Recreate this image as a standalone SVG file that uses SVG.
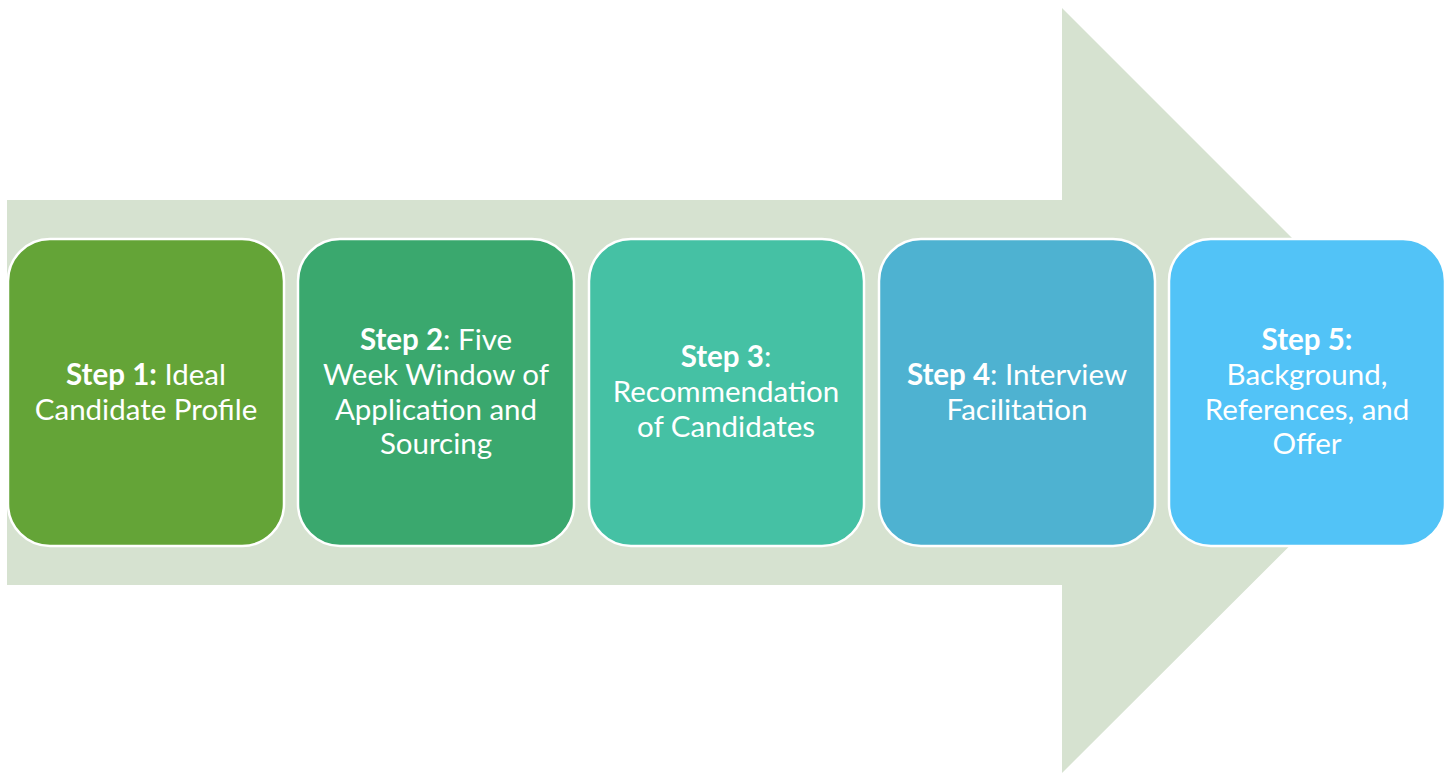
<svg xmlns="http://www.w3.org/2000/svg" width="1452" height="774" viewBox="0 0 1452 774">
<style>
.box{stroke:#fff;stroke-width:2.5}
.t{font-family:Lato,"Liberation Sans",sans-serif;font-size:29.5px;fill:#fff;text-anchor:middle}
.b{font-weight:bold}
</style>
<rect width="1452" height="774" fill="#fff"/>
<g id="arrow"><polygon points="7,200 1062,200 1062,8 1445,391 1062,773 1062,585 7,585" fill="#D6E2D0"/></g>
<g id="step1"><rect class="box" x="8" y="239" width="276" height="307" rx="42" fill="#64A437"/>
<text class="t" x="146" y="385"><tspan class="b">Step 1:</tspan> Ideal</text>
<text class="t" x="146" y="420">Candidate Profile</text></g>
<g id="step2"><rect class="box" x="298" y="239" width="276" height="307" rx="42" fill="#3AA86E"/>
<text class="t" x="436" y="350"><tspan class="b">Step 2</tspan>: Five</text>
<text class="t" x="436" y="385">Week Window of</text>
<text class="t" x="436" y="420">Application and</text>
<text class="t" x="436" y="454">Sourcing</text></g>
<g id="step3"><rect class="box" x="589" y="239" width="275" height="307" rx="42" fill="#45C1A4"/>
<text class="t" x="726" y="367"><tspan class="b">Step 3</tspan>:</text>
<text class="t" x="726" y="402">Recommendation</text>
<text class="t" x="726" y="437">of Candidates</text></g>
<g id="step4"><rect class="box" x="879" y="239" width="276" height="307" rx="42" fill="#4EB2D1"/>
<text class="t" x="1017" y="385"><tspan class="b">Step 4</tspan>: Interview</text>
<text class="t" x="1017" y="420">Facilitation</text></g>
<g id="step5"><rect class="box" x="1169" y="239" width="276" height="307" rx="42" fill="#52C3F7"/>
<text class="t" x="1307" y="350"><tspan class="b">Step 5:</tspan></text>
<text class="t" x="1307" y="385">Background,</text>
<text class="t" x="1307" y="420">References, and</text>
<text class="t" x="1307" y="454">Offer</text></g>
<g id="connectors"></g>
</svg>
